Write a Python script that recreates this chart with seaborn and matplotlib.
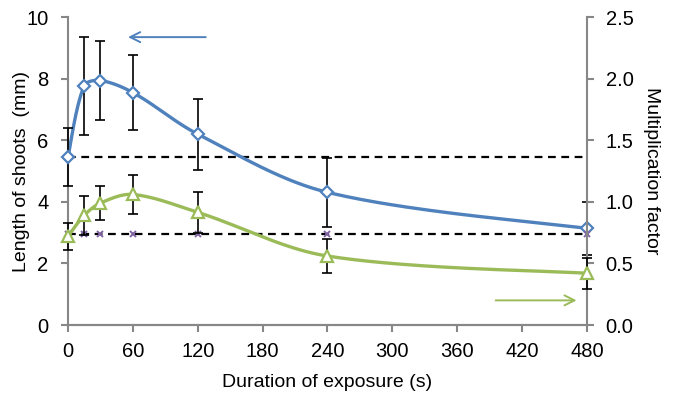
import numpy as np
import pandas as pd
import matplotlib
matplotlib.use("Agg")
import matplotlib.pyplot as plt
import seaborn as sns

# ---- data ----
duration = [0, 15, 30, 60, 120, 240, 480]
shoot_length = [5.45, 7.77, 7.94, 7.55, 6.20, 4.31, 3.14]          # mm (left axis)
shoot_err = [0.95, 1.60, 1.27, 1.22, 1.15, 1.13, 0.86]
mult_factor = [0.72, 0.89, 0.99, 1.06, 0.915, 0.56, 0.42]          # right axis
mult_err = [0.11, 0.16, 0.14, 0.155, 0.165, 0.14, 0.125]
control_mark = [2.95, 2.95, 2.95, 2.95, 2.95, 2.95, 2.95]          # left axis
control_length = 5.45
control_level = 2.95
x_ticks = [0, 60, 120, 180, 240, 300, 360, 420, 480]
left_ticks = [0, 2, 4, 6, 8, 10]
right_ticks = [0.0, 0.5, 1.0, 1.5, 2.0, 2.5]

BLUE = "#4F81BD"
GREEN = "#9BBB59"
PURPLE = "#8064A2"
GRAY = "#878787"


def smooth(a, xs, ys, n=40):
    """Excel-like smoothed line: Bezier through points, chord-length scaled tangents
    computed in display space."""
    P = a.transData.transform(np.column_stack([xs, ys]).astype(float))
    m = len(P)
    d = [np.hypot(*(P[i + 1] - P[i])) for i in range(m - 1)]
    out = []
    for i in range(m - 1):
        p1, p2 = P[i], P[i + 1]
        if i > 0:
            c1 = p1 + (p2 - P[i - 1]) * d[i] / (d[i - 1] + d[i]) / 3.0
        else:
            c1 = p1 + (p2 - p1) / 6.0
        if i + 2 < m:
            c2 = p2 - (P[i + 2] - p1) * d[i] / (d[i] + d[i + 1]) / 3.0
        else:
            c2 = p2 - (p2 - p1) / 6.0
        t = np.linspace(0, 1, n)[:, None]
        seg = ((1 - t) ** 3) * p1 + 3 * ((1 - t) ** 2) * t * c1 + 3 * (1 - t) * t ** 2 * c2 + t ** 3 * p2
        out.append(seg if i == 0 else seg[1:])
    s = a.transData.inverted().transform(np.vstack(out))
    return pd.DataFrame({"x": s[:, 0], "y": s[:, 1]})


sns.set_theme(style="white")
plt.rcParams["font.family"] = ["Liberation Sans", "DejaVu Sans"]
plt.rcParams["font.size"] = 14
plt.rcParams["axes.labelcolor"] = "black"
plt.rcParams["text.color"] = "black"

fig = plt.figure(figsize=(6.77, 3.98), dpi=100)
ax = fig.add_axes([0.1004, 0.1834, 0.7666, 0.7736])
ax2 = ax.twinx()
ax.set_xlim(0, 480)
ax.set_ylim(0, 10)
ax2.set_ylim(0, 2.5)

# dashed reference lines
ax.plot([0, 480], [control_length, control_length], ls=(0, (3.5, 2.5)), color="black", lw=1.6, zorder=1)
ax.plot([0, 480], [control_level, control_level], ls=(0, (3.5, 2.5)), color="black", lw=1.6, zorder=1)

# blue series (left axis)
sb = smooth(ax, duration, shoot_length)
sns.lineplot(data=sb, x="x", y="y", ax=ax, color=BLUE, lw=2.4, sort=False, estimator=None, zorder=2)
ax.errorbar(duration, shoot_length, yerr=shoot_err, fmt="none", ecolor="black",
            elinewidth=1.2, capsize=3.5, capthick=1.2, zorder=3, clip_on=False)
ax.plot(duration, shoot_length, ls="none", marker="D", ms=6.5, mfc="white", mec=BLUE,
        mew=1.6, zorder=4, clip_on=False)
ax.plot(duration, control_mark, ls="none", marker="x", ms=5, mec=PURPLE, mew=1.4,
        zorder=4, clip_on=False)

# green series (right axis)
sg = smooth(ax2, duration, mult_factor)
sns.lineplot(data=sg, x="x", y="y", ax=ax2, color=GREEN, lw=2.4, sort=False, estimator=None, zorder=2)
ax2.errorbar(duration, mult_factor, yerr=mult_err, fmt="none", ecolor="black",
             elinewidth=1.2, capsize=3.5, capthick=1.2, zorder=3, clip_on=False)
ax2.plot(duration, mult_factor, ls="none", marker="^", ms=8, mfc="white", mec=GREEN,
         mew=1.6, zorder=4, clip_on=False)

# arrows
ax.annotate("", xy=(53, 9.35), xytext=(130, 9.35),
            arrowprops=dict(arrowstyle="->", color=BLUE, lw=1.4, mutation_scale=18))
ax2.annotate("", xy=(473, 0.2), xytext=(393, 0.2),
             arrowprops=dict(arrowstyle="->", color=GREEN, lw=1.4, mutation_scale=18))

# axes styling
ax.set_xticks(x_ticks)
ax.set_xticklabels([str(v) for v in x_ticks])
ax.set_yticks(left_ticks)
ax.set_yticklabels([str(v) for v in left_ticks])
ax2.set_yticks(right_ticks)
ax2.set_yticklabels([f"{v:.1f}" for v in right_ticks])

for a in (ax, ax2):
    a.grid(False)
    a.set_facecolor("none")
    a.spines["top"].set_visible(False)
    for side in ("left", "right", "bottom"):
        a.spines[side].set_color(GRAY)
        a.spines[side].set_linewidth(1.5)
    a.tick_params(axis="both", which="major", direction="out", length=5, width=1.5,
                  color=GRAY, labelsize=14.5, labelcolor="black")
    a.set_xlabel("")
    a.set_ylabel("")
ax.spines["right"].set_visible(False)
ax2.spines["left"].set_visible(False)
ax.tick_params(axis="x", bottom=True, pad=7)
ax.tick_params(axis="y", left=True, pad=9)
ax2.tick_params(axis="y", right=True, pad=8.5)

xl = ax.set_xlabel("Duration of exposure (s)", fontsize=14, color="black")
xl.set_verticalalignment("center")
ax.xaxis.set_label_coords(0.5, -0.188)
yl = ax.set_ylabel("Length of shoots  (mm)", fontsize=14, color="black")
yl.set_verticalalignment("center")
ax.yaxis.set_label_coords(-0.0886, 0.5)
yr = ax2.set_ylabel("Multiplication factor", fontsize=14, rotation=270, color="black")
yr.set_verticalalignment("center")
ax2.yaxis.set_label_coords(1.125, 0.5)

fig.savefig("out.png", dpi=100)
